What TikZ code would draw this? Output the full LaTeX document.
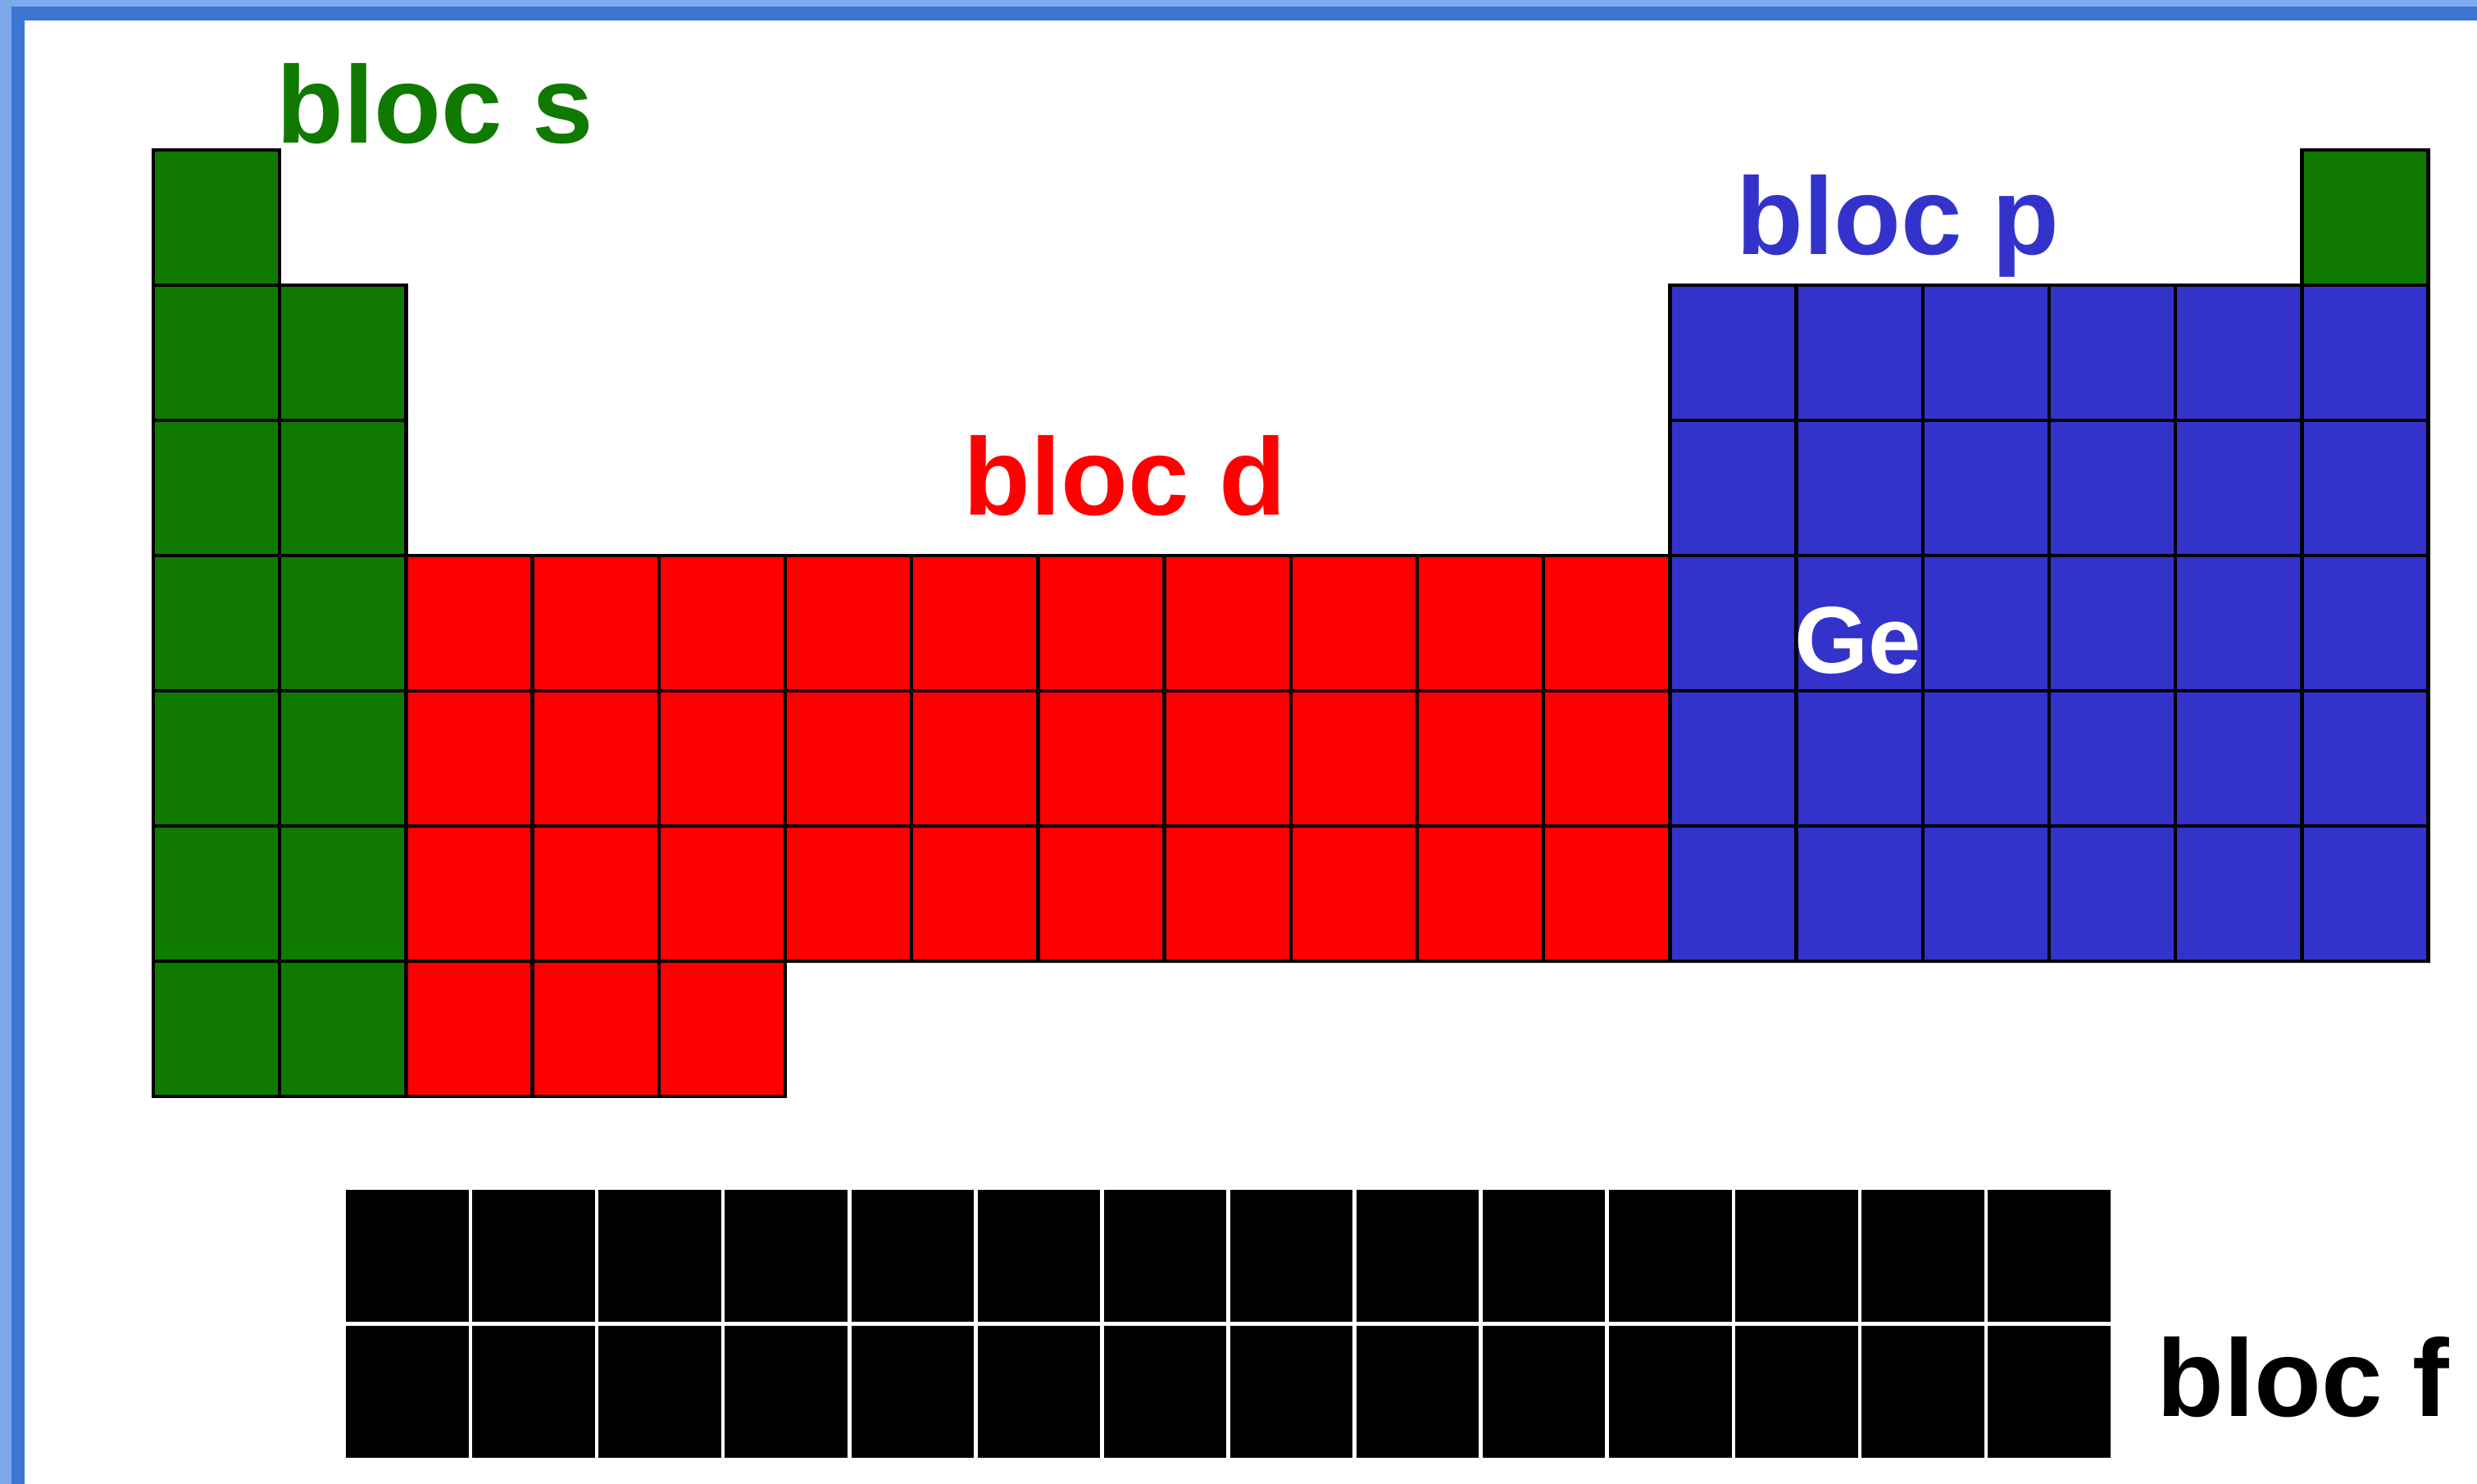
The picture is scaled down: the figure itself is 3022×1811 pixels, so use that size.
\documentclass[tikz,border=0pt]{standalone}
\usepackage{fontspec}
\setmainfont{Liberation Sans}
\definecolor{sgreen}{RGB}{16,122,0}
\definecolor{pblue}{RGB}{51,51,204}
\definecolor{dred}{RGB}{255,0,0}
\definecolor{frameL}{RGB}{125,170,236}
\definecolor{frameD}{RGB}{60,117,210}
\newcommand{\cellat}[3]{\draw[cellbox,fill=#3] ({187+#1*154.2},{183+#2*165}) rectangle +(154.2,165);}
\begin{document}
\begin{tikzpicture}[x=1pt,y=-1pt,
  cellbox/.style={draw=black,line width=4.5pt},
  fcell/.style={fill=black,draw=white,line width=4.5pt},
  lbl/.style={inner sep=0pt,anchor=base west,font=\fontsize{134}{150}\selectfont\bfseries}]
\useasboundingbox (0,0) rectangle (3022,1811);
% frame
\fill[frameL] (0,0) rectangle (3022,8);
\fill[frameL] (0,0) rectangle (14,1811);
\fill[frameD] (14,8) rectangle (3022,25);
\fill[frameD] (14,8) rectangle (30,1811);
% s block
\foreach \r in {0,...,6} {\cellat{0}{\r}{sgreen}}
\foreach \r in {1,...,6} {\cellat{1}{\r}{sgreen}}
\cellat{17}{0}{sgreen}
% d block
\foreach \c in {2,...,11} {\foreach \r in {3,4,5} {\cellat{\c}{\r}{dred}}}
\foreach \c in {2,3,4} {\cellat{\c}{6}{dred}}
% p block
\foreach \c in {12,...,17} {\foreach \r in {1,...,5} {\cellat{\c}{\r}{pblue}}}
% f block
\foreach \c in {0,...,13} {\foreach \r in {0,1} {
  \draw[fcell] ({420+\c*154.07},{1450+\r*165.5}) rectangle +(154.07,165.5);}}
% labels
\node[lbl,text=sgreen] (ls) at (337,175) {bloc s};
\node[lbl,text=dred] (ld) at (1175,628) {bloc d};
\node[lbl,text=pblue] (lp) at (2118,311) {bloc p};
\node[lbl,text=black] (lf) at (2631,1728) {bloc f};
\node[inner sep=0pt,anchor=base,text=white,font=\fontsize{116}{130}\selectfont\bfseries] (ge) at (2267,821) {Ge};
\end{tikzpicture}
\end{document}
